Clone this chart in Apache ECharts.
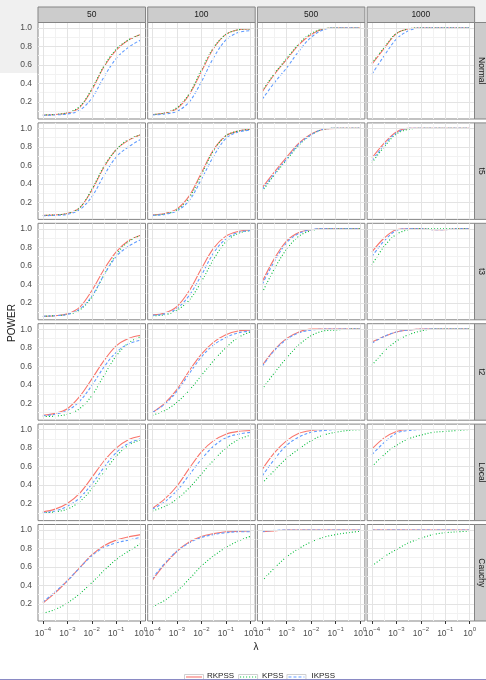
<!DOCTYPE html>
<html>
<head>
<meta charset="utf-8" />
<script src="https://cdn.jsdelivr.net/npm/echarts@6.0.0/dist/echarts.min.js"></script>
<style>
  html, body { margin: 0; padding: 0; background: #fff; }
  #main { width: 486px; height: 680px; }
</style>
</head>
<body>
<div id="main"></div>
<script>
// x positions are log10(lambda)
const lambdaExp = [-4, -3.5, -3, -2.5, -2, -1.5, -1, -0.5, 0];
const sampleSizes = ["50", "100", "500", "1000"];
const distributions = ["Normal", "t5", "t3", "t2", "Local", "Cauchy"];
const tests = ["RKPSS", "KPSS", "IKPSS"];
const xMajor = [-4, -3, -2, -1, 0];
const xMinor = [-3.5, -2.5, -1.5, -0.5];
const yMajor = [0.2, 0.4, 0.6, 0.8, 1.0];
const yMinor = [0.1, 0.3, 0.5, 0.7, 0.9];

// each array: one row per sample size (50, 100, 500, 1000)
const rkpssNormal = [
  [0.06, 0.065, 0.08, 0.14, 0.33, 0.58, 0.76, 0.87, 0.93],
  [0.065, 0.08, 0.13, 0.28, 0.53, 0.78, 0.93, 0.98, 0.99],
  [0.31, 0.5, 0.66, 0.82, 0.93, 0.99, 1, 1, 1],
  [0.61, 0.78, 0.94, 0.99, 1, 1, 1, 1, 1]
];
const kpssNormal = [
  [0.06, 0.065, 0.085, 0.15, 0.34, 0.59, 0.77, 0.87, 0.93],
  [0.065, 0.08, 0.14, 0.29, 0.55, 0.79, 0.93, 0.98, 0.99],
  [0.32, 0.51, 0.67, 0.83, 0.94, 0.99, 1, 1, 1],
  [0.62, 0.79, 0.94, 0.99, 1, 1, 1, 1, 1]
];
const ikpssNormal = [
  [0.055, 0.06, 0.07, 0.11, 0.24, 0.47, 0.67, 0.79, 0.87],
  [0.06, 0.07, 0.1, 0.2, 0.42, 0.68, 0.87, 0.95, 0.97],
  [0.23, 0.41, 0.57, 0.75, 0.9, 0.98, 1, 1, 1],
  [0.5, 0.7, 0.88, 0.97, 1, 1, 1, 1, 1]
];
const rkpssT5 = [
  [0.06, 0.065, 0.08, 0.14, 0.33, 0.58, 0.77, 0.87, 0.93],
  [0.065, 0.08, 0.13, 0.27, 0.52, 0.77, 0.92, 0.97, 0.99],
  [0.36, 0.53, 0.69, 0.84, 0.94, 0.99, 1, 1, 1],
  [0.68, 0.84, 0.96, 1, 1, 1, 1, 1, 1]
];
const kpssT5 = [
  [0.06, 0.065, 0.08, 0.14, 0.34, 0.59, 0.77, 0.88, 0.93],
  [0.06, 0.075, 0.12, 0.25, 0.5, 0.76, 0.92, 0.97, 0.99],
  [0.32, 0.5, 0.66, 0.82, 0.93, 0.99, 1, 1, 1],
  [0.63, 0.8, 0.94, 0.99, 1, 1, 1, 1, 1]
];
const ikpssT5 = [
  [0.055, 0.06, 0.07, 0.12, 0.26, 0.49, 0.69, 0.8, 0.88],
  [0.06, 0.07, 0.11, 0.22, 0.45, 0.7, 0.89, 0.96, 0.98],
  [0.34, 0.51, 0.67, 0.83, 0.93, 0.99, 1, 1, 1],
  [0.65, 0.82, 0.95, 1, 1, 1, 1, 1, 1]
];
const rkpssT3 = [
  [0.055, 0.06, 0.08, 0.15, 0.33, 0.56, 0.75, 0.87, 0.93],
  [0.07, 0.09, 0.16, 0.33, 0.57, 0.79, 0.92, 0.97, 0.99],
  [0.43, 0.68, 0.87, 0.96, 0.99, 1, 1, 1, 1],
  [0.75, 0.9, 0.99, 1, 1, 0.99, 0.99, 1, 1]
];
const kpssT3 = [
  [0.055, 0.06, 0.075, 0.12, 0.26, 0.5, 0.72, 0.86, 0.93],
  [0.06, 0.07, 0.12, 0.23, 0.43, 0.67, 0.86, 0.95, 0.98],
  [0.31, 0.57, 0.78, 0.92, 0.98, 1, 1, 1, 1],
  [0.61, 0.81, 0.94, 0.99, 1, 1, 1, 1, 1]
];
const ikpssT3 = [
  [0.055, 0.06, 0.075, 0.13, 0.27, 0.5, 0.7, 0.81, 0.88],
  [0.065, 0.08, 0.14, 0.28, 0.5, 0.74, 0.89, 0.96, 0.98],
  [0.4, 0.65, 0.85, 0.95, 0.99, 1, 1, 1, 1],
  [0.7, 0.87, 0.98, 1, 1, 0.99, 0.99, 1, 1]
];
const rkpssT2 = [
  [0.07, 0.09, 0.14, 0.27, 0.46, 0.66, 0.82, 0.9, 0.935],
  [0.1, 0.2, 0.35, 0.55, 0.73, 0.86, 0.94, 0.98, 0.99],
  [0.61, 0.78, 0.9, 0.97, 1, 1, 1, 1, 1],
  [0.86, 0.92, 0.97, 0.99, 1, 1, 1, 1, 1]
];
const kpssT2 = [
  [0.055, 0.06, 0.08, 0.14, 0.28, 0.5, 0.71, 0.85, 0.92],
  [0.07, 0.12, 0.21, 0.34, 0.5, 0.66, 0.8, 0.91, 0.97],
  [0.35, 0.53, 0.69, 0.83, 0.93, 0.98, 0.99, 1, 1],
  [0.61, 0.76, 0.87, 0.94, 0.98, 1, 1, 1, 1]
];
const ikpssT2 = [
  [0.065, 0.08, 0.12, 0.22, 0.39, 0.59, 0.75, 0.84, 0.88],
  [0.1, 0.19, 0.33, 0.52, 0.7, 0.83, 0.91, 0.96, 0.98],
  [0.6, 0.77, 0.89, 0.96, 0.99, 1, 1, 1, 1],
  [0.85, 0.92, 0.97, 0.99, 1, 1, 1, 1, 1]
];
const rkpssLocal = [
  [0.11, 0.14, 0.2, 0.31, 0.48, 0.66, 0.8, 0.89, 0.93],
  [0.15, 0.25, 0.39, 0.58, 0.76, 0.88, 0.95, 0.98, 0.99],
  [0.57, 0.75, 0.88, 0.96, 0.99, 1, 1, 1, 1],
  [0.79, 0.91, 0.98, 1, 1, 1, 1, 1, 1]
];
const kpssLocal = [
  [0.1, 0.11, 0.14, 0.22, 0.36, 0.54, 0.71, 0.83, 0.89],
  [0.12, 0.17, 0.25, 0.37, 0.52, 0.67, 0.8, 0.89, 0.94],
  [0.42, 0.56, 0.69, 0.79, 0.88, 0.94, 0.97, 0.99, 1],
  [0.6, 0.73, 0.83, 0.9, 0.94, 0.97, 0.98, 0.99, 1]
];
const ikpssLocal = [
  [0.1, 0.12, 0.17, 0.26, 0.41, 0.59, 0.75, 0.85, 0.9],
  [0.14, 0.22, 0.34, 0.51, 0.68, 0.82, 0.91, 0.95, 0.97],
  [0.5, 0.68, 0.83, 0.92, 0.97, 0.99, 1, 1, 1],
  [0.73, 0.86, 0.96, 0.99, 1, 1, 1, 1, 1]
];
const rkpssCauchy = [
  [0.21, 0.32, 0.45, 0.59, 0.73, 0.83, 0.89, 0.925, 0.95],
  [0.46, 0.63, 0.77, 0.87, 0.93, 0.96, 0.98, 0.985, 0.99],
  [0.98, 0.99, 1, 1, 1, 1, 1, 1, 1],
  [1, 1, 1, 1, 1, 1, 1, 1, 1]
];
const kpssCauchy = [
  [0.1, 0.14, 0.21, 0.31, 0.43, 0.56, 0.68, 0.77, 0.85],
  [0.17, 0.24, 0.34, 0.47, 0.61, 0.72, 0.81, 0.88, 0.93],
  [0.45, 0.59, 0.71, 0.8, 0.87, 0.92, 0.95, 0.97, 0.985],
  [0.61, 0.71, 0.79, 0.86, 0.91, 0.95, 0.97, 0.98, 0.99]
];
const ikpssCauchy = [
  [0.22, 0.33, 0.45, 0.59, 0.72, 0.81, 0.86, 0.89, 0.92],
  [0.48, 0.64, 0.77, 0.86, 0.92, 0.95, 0.97, 0.98, 0.98],
  [0.985, 0.995, 1, 1, 1, 1, 1, 1, 1],
  [1, 1, 1, 1, 1, 1, 1, 1, 1]
];

const power = {
  RKPSS: [rkpssNormal, rkpssT5, rkpssT3, rkpssT2, rkpssLocal, rkpssCauchy],
  KPSS: [kpssNormal, kpssT5, kpssT3, kpssT2, kpssLocal, kpssCauchy],
  IKPSS: [ikpssNormal, ikpssT5, ikpssT3, ikpssT2, ikpssLocal, ikpssCauchy]
};
const colors = { RKPSS: "#F8766D", KPSS: "#00BA38", IKPSS: "#619CFF" };
const dashes = { RKPSS: "solid", KPSS: [1, 2], IKPSS: [3, 2] };

const font = "Liberation Sans, Arial, sans-serif";
const xMin = -4.2, xMax = 0.2, yMin = 0.016, yMax = 1.059;
const panelW = 107.5, panelH = 96.5;
const colLeft = (c) => 38 + c * 109.7;
const rowTop = (r) => 22.5 + r * 100.4;

const minorStyle = { color: "#f2f2f2", width: 1, type: "solid" };
const majorStyle = { color: "#e3e3e3", width: 1, type: "solid" };
// grid lines as mark lines on an empty series under the curves
const gridLines = [].concat(
  xMinor.map((v) => ({ xAxis: v, lineStyle: minorStyle })),
  yMinor.map((v) => ({ yAxis: v, lineStyle: minorStyle })),
  xMajor.map((v) => ({ xAxis: v, lineStyle: majorStyle })),
  yMajor.map((v) => ({ yAxis: v, lineStyle: majorStyle }))
);

const grid = [], xAxis = [], yAxis = [], series = [];
const graphic = [
  // grey page behind the figure
  { type: "rect", z: -1, shape: { x: 0, y: 0, width: 486, height: 7 }, style: { fill: "#f0f0f0" } },
  { type: "rect", z: -1, shape: { x: 0, y: 0, width: 148, height: 73 }, style: { fill: "#f0f0f0" } },
  { type: "rect", z: -1, shape: { x: 474, y: 0, width: 12, height: 22 }, style: { fill: "#f0f0f0" } }
];

function expLabel(v) {
  const e = v < 0 ? "\u2212" + (-v) : String(v);
  return "{b|10}{s|" + e + "}";
}

distributions.forEach((dist, r) => {
  sampleSizes.forEach((n, c) => {
    const g = r * 4 + c;
    grid.push({
      left: colLeft(c), top: rowTop(r), width: panelW, height: panelH,
      show: true, backgroundColor: "#fff", borderColor: "#858585", borderWidth: 1
    });
    xAxis.push({
      gridIndex: g, type: "value", min: xMin, max: xMax, position: "bottom",
      axisLine: { show: false },
      axisTick: { show: r === 5, length: 3, customValues: xMajor, lineStyle: { color: "#333" } },
      axisLabel: {
        show: r === 5, customValues: xMajor, margin: 5, formatter: expLabel,
        rich: {
          b: { fontSize: 8.5, color: "#4d4d4d", fontFamily: font, lineHeight: 12, verticalAlign: "bottom" },
          s: { fontSize: 6, color: "#4d4d4d", fontFamily: font, lineHeight: 12, verticalAlign: "top" }
        }
      },
      splitLine: { show: false }
    });
    yAxis.push({
      gridIndex: g, type: "value", min: yMin, max: yMax, position: "left",
      axisLine: { show: false },
      axisTick: { show: c === 0, length: 4, customValues: yMajor, lineStyle: { color: "#333" } },
      axisLabel: {
        show: c === 0, customValues: yMajor, margin: 6,
        formatter: (v) => v.toFixed(1),
        fontSize: 8.5, color: "#4d4d4d", fontFamily: font
      },
      splitLine: { show: false }
    });
    series.push({
      type: "line", xAxisIndex: g, yAxisIndex: g, data: [], z: 1, silent: true,
      markLine: { silent: true, symbol: ["none", "none"], label: { show: false },
        animation: false, data: gridLines }
    });
    tests.forEach((t) => {
      series.push({
        name: t, type: "line", xAxisIndex: g, yAxisIndex: g, z: 3,
        data: lambdaExp.map((x, i) => [x, power[t][r][c][i]]),
        symbol: "none", smooth: 0.35, silent: true,
        itemStyle: { color: colors[t] },
        lineStyle: { color: colors[t], width: 1.1, type: dashes[t] }
      });
    });
  });
});

// facet strips
sampleSizes.forEach((n, c) => {
  graphic.push({ type: "rect", z: 10, shape: { x: colLeft(c), y: 7, width: panelW, height: 15.5 },
    style: { fill: "#cccccc", stroke: "#858585", lineWidth: 1 } });
  graphic.push({ type: "text", z: 11, x: colLeft(c) + panelW / 2, y: 15,
    style: { text: n, fontSize: 8.5, fontFamily: font, fill: "#1a1a1a", textAlign: "center", textVerticalAlign: "middle" } });
});
distributions.forEach((d, r) => {
  graphic.push({ type: "rect", z: 10, shape: { x: 474.5, y: rowTop(r), width: 16, height: panelH },
    style: { fill: "#cccccc", stroke: "#858585", lineWidth: 1 } });
  graphic.push({ type: "text", z: 11, x: 481.5, y: rowTop(r) + panelH / 2, rotation: -Math.PI / 2,
    style: { text: d, fontSize: 8.5, fontFamily: font, fill: "#1a1a1a", textAlign: "center", textVerticalAlign: "middle" } });
});

// axis titles
graphic.push({ type: "text", x: 12, y: 323, rotation: Math.PI / 2,
  style: { text: "POWER", fontSize: 10, fontFamily: font, fill: "#1a1a1a", textAlign: "center", textVerticalAlign: "middle" } });
graphic.push({ type: "text", x: 256, y: 647,
  style: { text: "\u03bb", fontSize: 10, fontFamily: font, fill: "#1a1a1a", textAlign: "center", textVerticalAlign: "middle" } });

// legend key boxes with their line samples
const ctx = document.createElement("canvas").getContext("2d");
ctx.font = "8px " + font;
let lx = 184;
tests.forEach((t) => {
  graphic.push({ type: "rect", z: 1, shape: { x: lx + 0.5, y: 674.5, width: 19, height: 14 },
    style: { fill: "#fff", stroke: "#d0d0d0", lineWidth: 1 } });
  graphic.push({ type: "line", z: 2, shape: { x1: lx + 2, y1: 677, x2: lx + 18, y2: 677 },
    style: { stroke: colors[t], lineWidth: 1.1, lineDash: dashes[t] === "solid" ? null : dashes[t] } });
  lx += 17 + 5 + ctx.measureText(t).width + 5;
});
graphic.push({ type: "line", z: 20, shape: { x1: 0, y1: 679.5, x2: 486, y2: 679.5 },
  style: { stroke: "#8a8ac4", lineWidth: 1 } });

const option = {
  animation: false,
  backgroundColor: "#fff",
  legend: {
    data: tests, left: 184, top: 671, padding: 0, itemWidth: 17, itemHeight: 11, itemGap: 5,
    itemStyle: { opacity: 0 }, lineStyle: { opacity: 0 },
    textStyle: { fontSize: 8, color: "#1a1a1a", fontFamily: font }
  },
  grid: grid,
  xAxis: xAxis,
  yAxis: yAxis,
  series: series,
  graphic: graphic
};

const myChart = echarts.init(document.getElementById("main"));
myChart.setOption(option);
</script>
</body>
</html>
